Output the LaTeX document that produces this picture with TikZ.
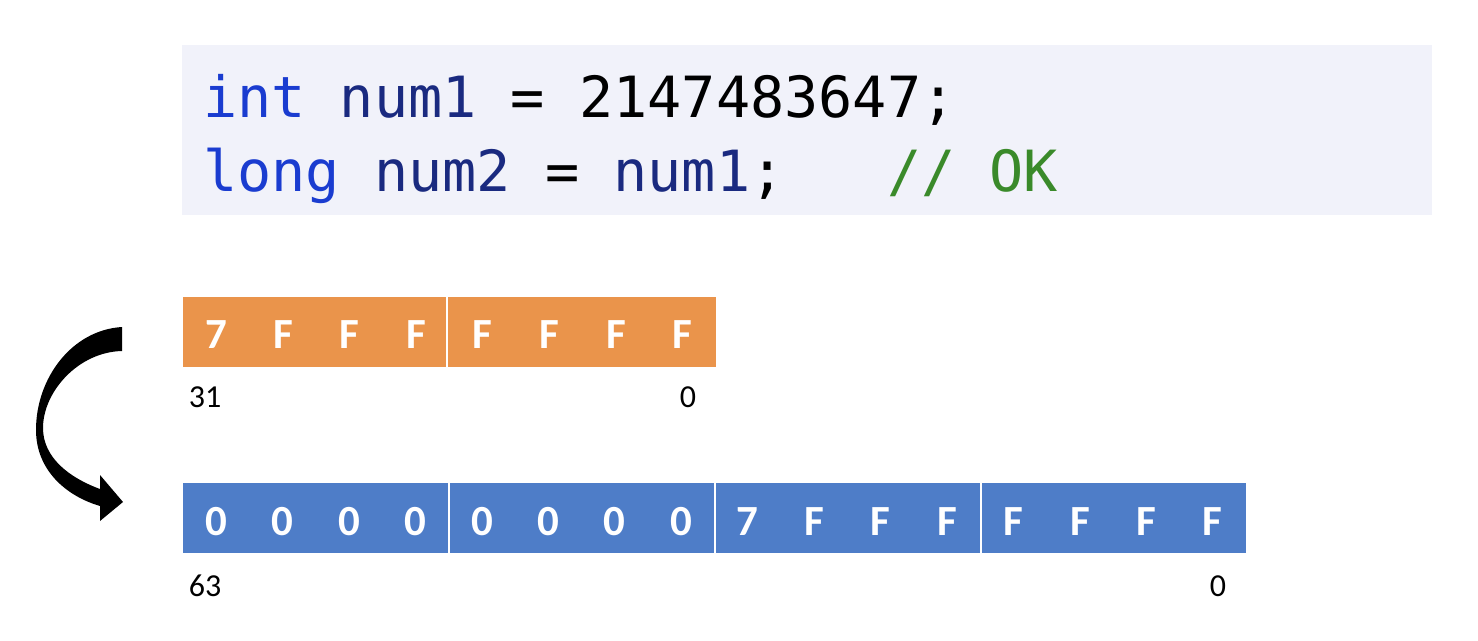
\documentclass[tikz,border=0pt]{standalone}
\usepackage{fontspec}
\setmainfont{Carlito}
\newfontfamily\codefont{DejaVu Sans Mono}
\definecolor{codebg}{HTML}{F1F2FA}
\definecolor{kwblue}{HTML}{1A3CD0}
\definecolor{idnavy}{HTML}{1A2A80}
\definecolor{cmtgreen}{HTML}{3A8A2A}
\definecolor{barorange}{HTML}{EA944B}
\definecolor{barblue}{HTML}{4E7DC8}
\tikzset{
  codeline/.style={anchor=base west, inner sep=0pt, font=\codefont\fontsize{56.8}{60}\selectfont},
  hexdigit/.style={anchor=base, inner sep=0pt, text=white, font=\bfseries\fontsize{43}{45}\selectfont},
  bitlabel/.style={anchor=base, inner sep=0pt, text=black, font=\fontsize{32}{34}\selectfont},
  divider/.style={white, line width=2.5pt},
}
\begin{document}
\begin{tikzpicture}[x=1pt,y=-1pt]
\useasboundingbox[fill=white] (0,0) rectangle (1478,640);
% code box
\node[fill=codebg, minimum width=1250pt, minimum height=170pt, anchor=north west, inner sep=0pt] (code) at (182,45) {};
\node[codeline] (l1) at (203,117) {\textcolor{kwblue}{int} \textcolor{idnavy}{num1} = 2147483647;};
\node[codeline] (l2) at (203,191) {\textcolor{kwblue}{long} \textcolor{idnavy}{num2} = \textcolor{idnavy}{num1};\ \ \ \textcolor{cmtgreen}{// OK}};
% orange bar (int, 32 bits)
\node[fill=barorange, minimum width=533pt, minimum height=70pt, anchor=north west, inner sep=0pt] (ibar) at (183,297) {};
\draw[divider] (447,297) -- (447,367);
\foreach \d [count=\i from 0] in {7,F,F,F,F,F,F,F}
  \node[hexdigit] (i\i) at ({183+66.6*\i+33.3},348) {\d};
\node[bitlabel] (i31) at (205,407) {31};
\node[bitlabel] (i0) at (688,407) {0};
% blue bar (long, 64 bits)
\node[fill=barblue, minimum width=1063pt, minimum height=70pt, anchor=north west, inner sep=0pt] (lbar) at (183,483) {};
\foreach \x in {449,715,981} \draw[divider] (\x,483) -- (\x,553);
\foreach \d [count=\i from 0] in {0,0,0,0,0,0,0,0,7,F,F,F,F,F,F,F}
  \node[hexdigit] (b\i) at ({183+66.44*\i+33.2},535) {\d};
\node[bitlabel] (b63) at (205,596) {63};
\node[bitlabel] (b0) at (1218,596) {0};
% curved arrow
\fill[black] (122,327) .. controls (72,330) and (36,378) .. (36,430)
  .. controls (36,470) and (66,496) .. (100,506) -- (100,521) -- (123,502) -- (100,475) -- (100,489)
  .. controls (70,478) and (43,458) .. (43,428)
  .. controls (43,392) and (78,352) .. (122,351) -- cycle;
\end{tikzpicture}
\end{document}
